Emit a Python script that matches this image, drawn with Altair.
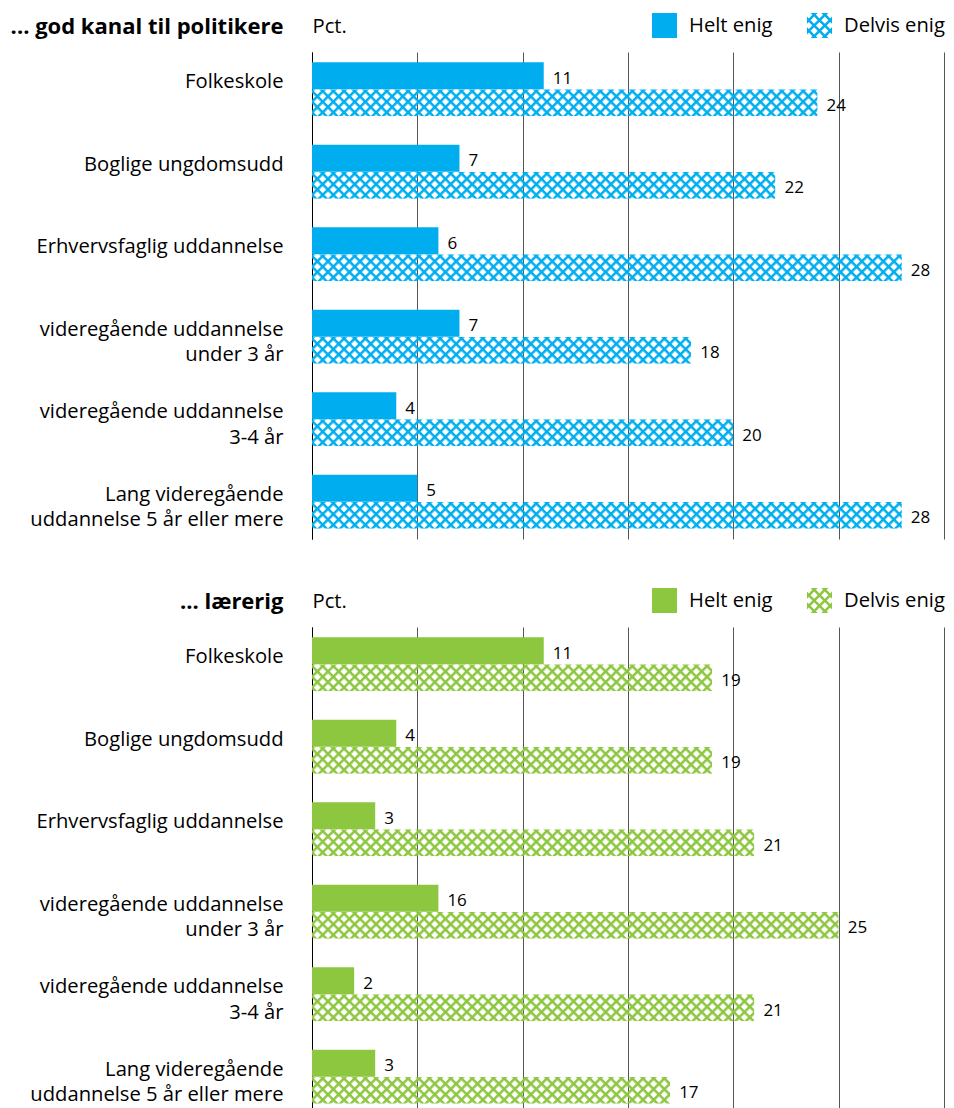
import altair as alt
import pandas as pd
from urllib.parse import quote

# ---------------- data ----------------
categories = [
    "Folkeskole",
    "Boglige ungdomsudd",
    "Erhvervsfaglig uddannelse",
    "videregående uddannelse\nunder 3 år",
    "videregående uddannelse\n3-4 år",
    "Lang videregående\nuddannelse 5 år eller mere",
]
series = ["Helt enig", "Delvis enig"]

politik_helt = [11, 7, 6, 7, 4, 5]
politik_delvis = [24, 22, 28, 18, 20, 28]
politik_helt_lbl = ["11", "7", "6", "7", "4", "5"]
politik_delvis_lbl = ["24", "22", "28", "18", "20", "28"]

laererig_helt = [11, 4, 3, 6, 2, 3]
laererig_delvis = [19, 19, 21, 25, 21, 17]
laererig_helt_lbl = ["11", "4", "3", "16", "2", "3"]
laererig_delvis_lbl = ["19", "19", "21", "25", "21", "17"]

headings = ["... god kanal til politikere", "... lærerig"]
unit_label = "Pct."
grid_values = [0, 5, 10, 15, 20, 25, 30]

# ---------------- styling ----------------
FONT = "Open Sans"
BLUE = "#00AEEF"
GREEN = "#8DC63F"
PLOT_W = 632
PLOT_H = 487
X_MAX = 30
BAR_H = 27
FS = 20.2
TITLE_FS = 22


def long_df(helt, delvis, helt_lbl, delvis_lbl):
    rows = []
    for c, h, d, hl, dl in zip(categories, helt, delvis, helt_lbl, delvis_lbl):
        rows.append({"kat": c, "serie": series[0], "pct": h, "lbl": hl})
        rows.append({"kat": c, "serie": series[1], "pct": d, "lbl": dl})
    return pd.DataFrame(rows)


def hatch_url_expr(color):
    p, lw = 7.55, 2.5
    a = "<svg xmlns='http://www.w3.org/2000/svg' width='"
    b = f"' height='{BAR_H}' viewBox='0 0 "
    c = (f" {BAR_H}' preserveAspectRatio='none'><defs><pattern id='h' width='{p}' height='{p}' "
         "patternUnits='userSpaceOnUse' patternTransform='rotate(45)'>"
         f"<rect width='{p}' height='{lw}' fill='{color}'/>"
         f"<rect width='{lw}' height='{p}' fill='{color}'/>"
         "</pattern></defs><rect width='100%' height='100%' fill='url(#h)'/></svg>")
    w = f"(datum.pct * {PLOT_W} / {X_MAX})"
    return ("'data:image/svg+xml;charset=utf-8," + quote(a, safe="") + "' + " + w + " + '"
            + quote(b, safe="") + "' + " + w + " + '" + quote(c, safe="") + "'")


def clip_poly(poly):
    def clip_edge(pts, inside, inter):
        out = []
        n = len(pts)
        for i in range(n):
            cur, prev = pts[i], pts[i - 1]
            if inside(cur):
                if not inside(prev):
                    out.append(inter(prev, cur))
                out.append(cur)
            elif inside(prev):
                out.append(inter(prev, cur))
        return out

    def ix(x0):
        return lambda p, q: (x0, p[1] + (q[1] - p[1]) * (x0 - p[0]) / (q[0] - p[0]))

    def iy(y0):
        return lambda p, q: (p[0] + (q[0] - p[0]) * (y0 - p[1]) / (q[1] - p[1]), y0)

    pts = poly
    for inside, inter in [
        (lambda p: p[0] >= -1, ix(-1)),
        (lambda p: p[0] <= 1, ix(1)),
        (lambda p: p[1] >= -1, iy(-1)),
        (lambda p: p[1] <= 1, iy(1)),
    ]:
        if not pts:
            break
        pts = clip_edge(pts, inside, inter)
    return pts


def hatch_symbol_path(s=0.854, r=0.286):
    parts = ["M-1,-1L1,-1L1,1L-1,1Z"]
    for a in range(-6, 7):
        for b in range(-6, 7):
            if (a + b) % 2:
                continue
            cx, cy = a * s / 2, b * s / 2
            poly = [(cx, cy - r), (cx - r, cy), (cx, cy + r), (cx + r, cy)]
            poly = clip_poly(poly)
            if len(poly) >= 3:
                area = 0
                for i in range(len(poly)):
                    x0, y0 = poly[i - 1]
                    x1, y1 = poly[i]
                    area += x0 * y1 - x1 * y0
                if abs(area) < 1e-4:
                    continue
                parts.append("M" + "L".join(f"{x:.3f},{y:.3f}" for x, y in poly) + "Z")
    return "".join(parts)


HATCH_PATH = hatch_symbol_path()


def panel(df, color, heading):
    base = alt.Chart(df)
    x_scale = alt.Scale(domain=[0, X_MAX], nice=False, zero=True)
    y_enc = alt.Y(
        "kat:N", sort=categories,
        scale=alt.Scale(paddingInner=0.345, paddingOuter=0.125),
        axis=alt.Axis(
            title=heading, titleAngle=0, titleAlign="right", titleBaseline="middle",
            titleX=-29, titleY=-26, titleFontSize=TITLE_FS, titleFontWeight="bold",
            titleFont=FONT, titleColor="black",
            labelFontSize=FS, labelFont=FONT, labelColor="black", labelPadding=29,
            labelExpr="split(datum.label, '\\n')", labelLineHeight=25.5,
            labelBaseline="middle", labelOffset=-7, labelLimit=500,
            ticks=False, domain=True, domainColor="black", domainWidth=1, grid=False,
        ),
    )
    yoff = alt.YOffset("serie:N", sort=series,
                       scale=alt.Scale(domain=series, paddingInner=0, paddingOuter=0))
    x_enc = alt.X(
        "pct:Q", scale=x_scale,
        axis=alt.Axis(
            orient="top", values=grid_values, labels=False, ticks=False, domain=False,
            grid=True, gridColor="#555555", gridWidth=1,
            title=unit_label, titleX=0, titleY=-26, titleAlign="left",
            titleBaseline="middle", titleFontWeight="normal", titleFontSize=FS,
            titleFont=FONT, titleColor="black", titleAnchor="start",
        ),
    )
    solid = base.transform_filter(alt.datum.serie == series[0]).mark_bar(
        color=color, stroke=None
    ).encode(x=x_enc, y=y_enc, yOffset=yoff)

    hatch = base.transform_filter(alt.datum.serie == series[1]).transform_calculate(
        url=hatch_url_expr(color)
    ).mark_image(aspect=False).encode(
        x=alt.X("pct:Q", scale=x_scale), x2=alt.datum(0), y=y_enc, yOffset=yoff, url="url:N"
    )

    text = base.mark_text(
        align="left", baseline="middle", dx=9, dy=3, fontSize=17, font=FONT, color="black"
    ).encode(x=alt.X("pct:Q", scale=x_scale), y=y_enc, yOffset=yoff, text="lbl:N")

    leg = alt.Legend(
        title=None, orient="none", legendX=340, legendY=-39, direction="horizontal",
        symbolSize=625, symbolStrokeWidth=0, labelFontSize=FS, labelFont=FONT,
        labelColor="black", labelOffset=12, columnPadding=34, padding=0,
        symbolOpacity=1,
    )
    legend_layer = base.transform_filter("false").mark_point(filled=True, opacity=1).encode(
        color=alt.Color("serie:N", scale=alt.Scale(domain=series, range=[color, color]), legend=leg),
        shape=alt.Shape("serie:N", scale=alt.Scale(domain=series, range=["square", HATCH_PATH]),
                        legend=leg),
    )
    return alt.layer(solid, hatch, text, legend_layer).properties(width=PLOT_W, height=PLOT_H)


top = panel(long_df(politik_helt, politik_delvis, politik_helt_lbl, politik_delvis_lbl), BLUE, headings[0])
bottom = panel(long_df(laererig_helt, laererig_delvis, laererig_helt_lbl, laererig_delvis_lbl), GREEN, headings[1])

chart = alt.vconcat(top, bottom, spacing=49).resolve_scale(
    color="independent", shape="independent"
).resolve_legend(color="independent", shape="independent").properties(
    padding={"left": 2, "top": 5, "right": 1, "bottom": 0}
).configure(font=FONT).configure_view(stroke=None)

chart.save("out.html", embed_options={"renderer": "svg", "actions": False})
